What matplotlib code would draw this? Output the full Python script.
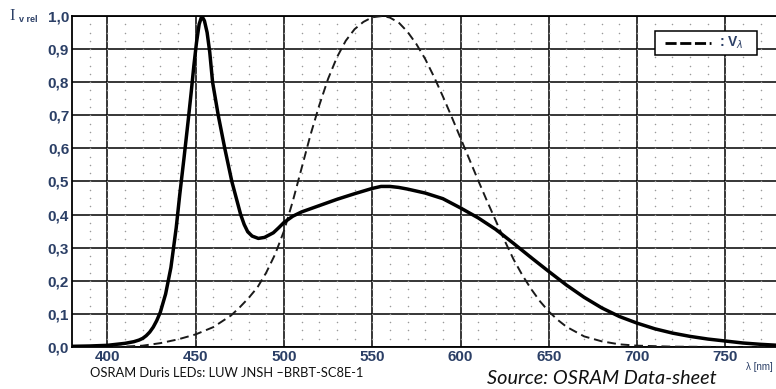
import matplotlib

matplotlib.use("Agg")
import matplotlib.pyplot as plt
import numpy as np
from matplotlib.lines import Line2D
from matplotlib.patches import Rectangle

# LED spectrum (solid)
led_nm = [380, 390, 400, 405, 410, 415, 418, 420, 422, 424, 426, 428, 430, 433, 436, 439, 441,
          443.4, 445.7, 447.5, 449, 450.5, 452, 453.5, 455, 456.5, 458, 459.6, 462.8, 466.5,
          470.5, 473, 475.5, 477.5, 479.5, 482, 485.5, 489, 494, 497, 500, 505, 510, 520,
          530, 540, 550, 555, 560, 565, 570, 580, 590, 600, 610, 620, 630, 640, 650, 660, 670,
          680, 690, 700, 710, 720, 730, 740, 750, 760, 770, 780]
led_rel = [0.002, 0.003, 0.005, 0.008, 0.011, 0.016, 0.021, 0.026, 0.034, 0.045, 0.06, 0.08, 0.105, 0.16, 0.24, 0.36, 0.46,
           0.57, 0.68, 0.77, 0.85, 0.92, 0.975, 1.0, 0.985, 0.95, 0.89, 0.8, 0.7, 0.6,
           0.5, 0.45, 0.4, 0.37, 0.348, 0.335, 0.328, 0.331, 0.345, 0.36, 0.376, 0.395, 0.408, 0.427,
           0.446, 0.463, 0.479, 0.485, 0.485, 0.482, 0.477, 0.465, 0.448, 0.42, 0.39, 0.355, 0.313, 0.27, 0.228, 0.187, 0.15,
           0.118, 0.092, 0.072, 0.055, 0.042, 0.032, 0.024, 0.018, 0.012, 0.008, 0.005]

# V(lambda) eye sensitivity (dashed)
vl_nm = [380, 400, 410, 420, 430, 440, 450, 460, 470, 475, 480, 485, 490, 495, 500, 505, 510,
         515, 520, 525, 530, 535, 540, 545, 550, 556, 560, 565, 570, 575, 580, 585, 590, 595,
         600, 605, 610, 615, 620, 625, 630, 635, 640, 645, 650, 655, 660, 670, 680, 690, 700,
         720, 750, 780]
vl_rel = [0.0, 0.0004, 0.0012, 0.004, 0.0116, 0.023, 0.038, 0.06, 0.095, 0.12, 0.148, 0.18, 0.225, 0.28, 0.35, 0.44, 0.54,
          0.64, 0.73, 0.81, 0.875, 0.925, 0.96, 0.982, 0.996, 1.0, 0.995, 0.98, 0.952, 0.915, 0.87, 0.816, 0.757, 0.695,
          0.631, 0.567, 0.503, 0.441, 0.381, 0.321, 0.265, 0.217, 0.175, 0.138, 0.107, 0.082, 0.061, 0.032, 0.017, 0.008, 0.004,
          0.001, 0.0, 0.0]

x_ticks = [400, 450, 500, 550, 600, 650, 700, 750]
y_ticks = [0.0, 0.1, 0.2, 0.3, 0.4, 0.5, 0.6, 0.7, 0.8, 0.9, 1.0]

NAVY = "#2b3f66"

fig = plt.figure(figsize=(7.76, 3.89), dpi=100)
ax = fig.add_axes([0.0928, 0.108, 0.9103, 0.851])
ax.set_xlim(380, 780)
ax.set_ylim(0, 1.0)

# dotted sub-grid: 10 nm x 0.025
gx, gy = np.meshgrid(np.arange(390, 780, 10), np.arange(0.025, 1.0, 0.025))
ax.scatter(gx.ravel(), gy.ravel(), s=1.2, color="#9a9a9a", linewidths=0, zorder=1)

ax.set_xticks(x_ticks)
ax.set_yticks(y_ticks)
ax.grid(True, color="black", linewidth=1.1, zorder=2)
ax.set_axisbelow(True)
ax.tick_params(length=0, pad=2)
ax.set_xticklabels([str(v) for v in x_ticks], fontsize=11, fontweight="bold",
                   color=NAVY, family="Liberation Sans")
ax.set_yticklabels([f"{v:.1f}".replace(".", ",") for v in y_ticks], fontsize=11,
                   fontweight="bold", color=NAVY, family="Liberation Sans")
for s in ax.spines.values():
    s.set_linewidth(1.3)
ax.spines["right"].set_visible(False)

ax.plot(led_nm, led_rel, color="black", linewidth=2.5, zorder=4,
        solid_capstyle="round", solid_joinstyle="round")
ax.plot(vl_nm, vl_rel, color="#1a1a1a", linewidth=1.4, linestyle=(0, (4.5, 2.5)), zorder=3)

# legend box
ax.add_artist(Rectangle((0.844, 0.859), 0.132, 0.062, transform=fig.transFigure,
                        facecolor="white", edgecolor="black", linewidth=1.1,
                        zorder=6, clip_on=False))
ax.add_line(Line2D([0.857, 0.916], [0.889, 0.889], transform=fig.transFigure,
                   color="black", linewidth=2.0, linestyle=(0, (4, 1.3)), zorder=7))
fig.text(0.926, 0.889, r": V$_\lambda$", fontsize=10, fontweight="bold", color=NAVY,
         family="Liberation Sans", va="center", ha="left", zorder=8)

# axis labels
fig.text(0.012, 0.958, "I", fontsize=12, color=NAVY, family="Liberation Serif",
         va="center", ha="left")
fig.text(0.025, 0.950, "v rel", fontsize=6.5, color=NAVY, family="Liberation Sans",
         fontweight="bold", va="center", ha="left")
fig.text(0.961, 0.057, "λ [nm]", fontsize=7, color=NAVY, family="Liberation Sans",
         va="center", ha="left")

# captions
fig.text(0.116, 0.040, "OSRAM Duris LEDs: LUW JNSH –BRBT-SC8E-1", fontsize=9.3,
         family="Lato", color="#111111", va="center", ha="left")
fig.text(0.627, 0.005, "Source: OSRAM Data-sheet", fontsize=14.3, family="Lato",
         style="italic", color="#111111", va="bottom", ha="left")

fig.savefig("out.png", dpi=100)
